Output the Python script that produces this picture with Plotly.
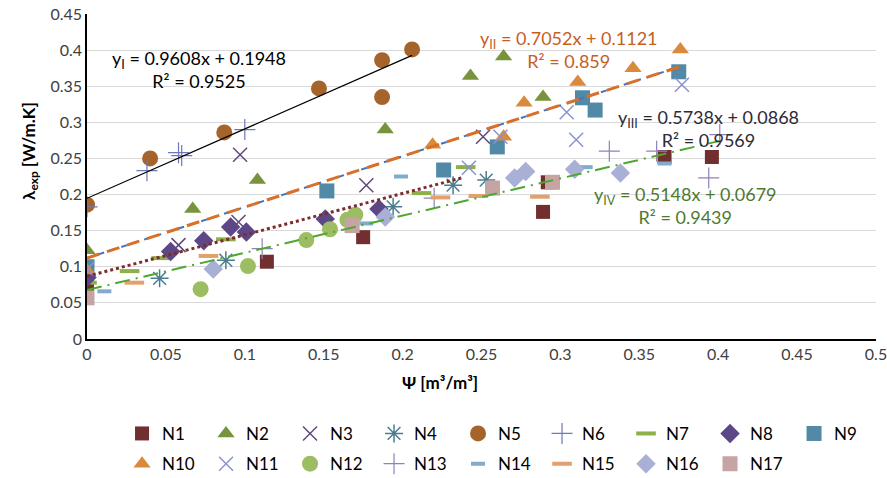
import plotly.graph_objects as go

# ---------------- data ----------------
N1_x = [0.0, 0.114, 0.175, 0.289, 0.292, 0.366, 0.396]
N1_y = [0.073, 0.107, 0.141, 0.176, 0.217, 0.252, 0.252]
N2_x = [0.0, 0.067, 0.108, 0.189, 0.243, 0.264, 0.289]
N2_y = [0.123, 0.180, 0.220, 0.290, 0.364, 0.391, 0.335]
N3_x = [0.058, 0.096, 0.097, 0.177, 0.251]
N3_y = [0.130, 0.162, 0.255, 0.213, 0.280]
N4_x = [0.046, 0.088, 0.194, 0.232, 0.253]
N4_y = [0.084, 0.109, 0.183, 0.213, 0.220]
N5_x = [0.0, 0.040, 0.087, 0.147, 0.187, 0.187, 0.206]
N5_y = [0.186, 0.250, 0.286, 0.347, 0.386, 0.335, 0.401]
N6_x = [0.0, 0.038, 0.058, 0.060, 0.100]
N6_y = [0.183, 0.233, 0.258, 0.254, 0.290]
N7_x = [0.0, 0.027, 0.047, 0.088, 0.212, 0.240]
N7_y = [0.078, 0.094, 0.112, 0.138, 0.202, 0.238]
N8_x = [0.0, 0.053, 0.074, 0.091, 0.101, 0.151, 0.185]
N8_y = [0.085, 0.121, 0.136, 0.155, 0.148, 0.166, 0.180]
N9_x = [0.0, 0.152, 0.226, 0.260, 0.314, 0.322, 0.375]
N9_y = [0.100, 0.205, 0.234, 0.266, 0.334, 0.317, 0.370]
N10_x = [0.0, 0.219, 0.264, 0.277, 0.311, 0.346, 0.376]
N10_y = [0.095, 0.269, 0.280, 0.327, 0.356, 0.375, 0.401]
N11_x = [0.0, 0.242, 0.262, 0.304, 0.310, 0.377]
N11_y = [0.097, 0.237, 0.280, 0.314, 0.276, 0.352]
N12_x = [0.072, 0.102, 0.139, 0.154, 0.165, 0.170]
N12_y = [0.069, 0.101, 0.137, 0.152, 0.165, 0.172]
N13_x = [0.111, 0.220, 0.331, 0.361, 0.394, 0.401]
N13_y = [0.125, 0.195, 0.260, 0.260, 0.223, 0.283]
N14_x = [0.011, 0.177, 0.199, 0.316, 0.366]
N14_y = [0.066, 0.160, 0.225, 0.238, 0.243]
N15_x = [0.030, 0.077, 0.224, 0.248, 0.287]
N15_y = [0.078, 0.115, 0.196, 0.198, 0.197]
N16_x = [0.080, 0.189, 0.271, 0.278, 0.309, 0.338]
N16_y = [0.097, 0.169, 0.223, 0.232, 0.235, 0.230]
N17_x = [0.0, 0.168, 0.257, 0.295]
N17_y = [0.057, 0.157, 0.209, 0.217]

# axis ticks
x_ticks = [0, 0.05, 0.1, 0.15, 0.2, 0.25, 0.3, 0.35, 0.4, 0.45, 0.5]
x_tick_labels = ["0", "0.05", "0.1", "0.15", "0.2", "0.25", "0.3", "0.35", "0.4", "0.45", "0.5"]
y_ticks = [0, 0.05, 0.1, 0.15, 0.2, 0.25, 0.3, 0.35, 0.4, 0.45]
y_tick_labels = ["0", "0.05", "0.1", "0.15", "0.2", "0.25", "0.3", "0.35", "0.4", "0.45"]

# trend lines: slope, intercept, x-extent
trend_I = dict(a=0.9608, b=0.1948, x=[0.0, 0.206])
trend_II = dict(a=0.7052, b=0.1121, x=[0.0, 0.376])
trend_III = dict(a=0.5738, b=0.0868, x=[0.0, 0.238])
trend_IV = dict(a=0.5148, b=0.0679, x=[0.0, 0.401])

FONT = "Lato"

series = [
    ("N1", N1_x, N1_y, "square", "#722F2F", 14, 0, "legend"),
    ("N2", N2_x, N2_y, "triangle-up", "#77933C", 15, 0, "legend"),
    ("N3", N3_x, N3_y, "x-thin-open", "#5F497A", 14, 1.5, "legend"),
    ("N4", N4_x, N4_y, "asterisk-open", "#4B7D90", 15, 1.5, "legend"),
    ("N5", N5_x, N5_y, "circle", "#A5642B", 16, 0, "legend"),
    ("N6", N6_x, N6_y, "cross-thin-open", "#6C78B8", 15, 1.2, "legend"),
    ("N7", N7_x, N7_y, "line-ew-open", "#8DB04A", 14, 4, "legend"),
    ("N8", N8_x, N8_y, "diamond", "#5E4787", 15, 0, "legend"),
    ("N9", N9_x, N9_y, "square", "#5189A6", 15, 0, "legend"),
    ("N10", N10_x, N10_y, "triangle-up", "#DA8A3C", 15, 0, "legend2"),
    ("N11", N11_x, N11_y, "x-thin-open", "#8A93D0", 14, 1.5, "legend2"),
    ("N12", N12_x, N12_y, "circle", "#9DBD62", 16, 0, "legend2"),
    ("N13", N13_x, N13_y, "cross-thin-open", "#8D82BB", 15, 1.2, "legend2"),
    ("N14", N14_x, N14_y, "line-ew-open", "#80ADCB", 10, 4, "legend2"),
    ("N15", N15_x, N15_y, "line-ew-open", "#E4A06C", 14, 4, "legend2"),
    ("N16", N16_x, N16_y, "diamond", "#A9B0D6", 15, 0, "legend2"),
    ("N17", N17_x, N17_y, "square", "#C6A4A4", 15, 0, "legend2"),
]

fig = go.Figure()

for name, xs, ys, sym, col, size, lw, leg in series:
    marker = dict(symbol=sym, size=size, color=col)
    if lw:
        marker["line"] = dict(color=col, width=lw)
    else:
        marker["line"] = dict(width=0)
    fig.add_trace(go.Scatter(x=xs, y=ys, mode="markers", name=name,
                             marker=marker, legend=leg))


def tl(t):
    return [t["a"] * v + t["b"] for v in t["x"]]


fig.add_trace(go.Scatter(x=trend_I["x"], y=tl(trend_I), mode="lines",
                         line=dict(color="black", width=1.2), showlegend=False))
fig.add_trace(go.Scatter(x=trend_II["x"], y=tl(trend_II), mode="lines",
                         line=dict(color="#4472C4", width=2, dash="6px,6px"),
                         showlegend=False))
fig.add_trace(go.Scatter(x=trend_II["x"], y=tl(trend_II), mode="lines",
                         line=dict(color="#D9702A", width=3, dash="13px,8px"),
                         showlegend=False))
fig.add_trace(go.Scatter(x=trend_III["x"], y=tl(trend_III), mode="lines",
                         line=dict(color="#7B2C2C", width=3, dash="dot"),
                         showlegend=False))
fig.add_trace(go.Scatter(x=trend_IV["x"], y=tl(trend_IV), mode="lines",
                         line=dict(color="#4EA72E", width=2, dash="15px,6px,2px,6px"),
                         showlegend=False))

ann_font = dict(family=FONT, size=18)
annotations = [
    dict(x=0.071, y=0.3726, text="y<sub>I</sub> = 0.9608x + 0.1948<br>R² = 0.9525",
         font=dict(ann_font, color="#000000")),
    dict(x=0.3054, y=0.4003, text="y<sub>II</sub> = 0.7052x + 0.1121<br>R² = 0.859",
         font=dict(ann_font, color="#C5601F")),
    dict(x=0.394, y=0.2909, text="y<sub>III</sub> = 0.5738x + 0.0868<br>R² = 0.9569",
         font=dict(ann_font, color="#2E2A35")),
    dict(x=0.379, y=0.1842, text="y<sub>IV</sub> = 0.5148x + 0.0679<br>R² = 0.9439",
         font=dict(ann_font, color="#4E7A2E")),
]
for a in annotations:
    fig.add_annotation(xref="x", yref="y", showarrow=False, align="center",
                       xanchor="center", yanchor="middle", **a)

# axis titles
fig.add_annotation(xref="paper", yref="paper", x=-0.073, y=0.58, textangle=-90,
                   text="<b>λ<sub>exp</sub> [W/m.K]</b>", showarrow=False,
                   font=dict(family=FONT, size=17, color="#000000"),
                   xanchor="center", yanchor="middle")
fig.add_annotation(xref="paper", yref="paper", x=0.4475, y=-0.135,
                   text="<b>Ψ [m³/m³]</b>", showarrow=False,
                   font=dict(family=FONT, size=17, color="#000000"),
                   xanchor="center", yanchor="middle")

fig.update_layout(
    width=887, height=478,
    margin=dict(l=87, r=11, t=14, b=139, autoexpand=False),
    paper_bgcolor="white", plot_bgcolor="white",
    font=dict(family=FONT, size=16, color="#404040"),
    xaxis=dict(range=[0, 0.5], tickmode="array", tickvals=x_ticks, ticktext=x_tick_labels,
               showgrid=False, showline=True, linecolor="black", linewidth=1.5,
               zeroline=False, ticks="", automargin=False, ticklabeloverflow="allow",
               tickfont=dict(size=16, color="#404040")),
    yaxis=dict(range=[0, 0.45], tickmode="array", tickvals=y_ticks, ticktext=y_tick_labels,
               showgrid=True, gridcolor="#D9D9D9", gridwidth=1,
               showline=True, linecolor="black", linewidth=1.5,
               zeroline=False, ticks="", automargin=False,
               tickfont=dict(size=16, color="#404040")),
    legend=dict(orientation="h", x=0.0444, y=-0.292, xanchor="left", yanchor="middle",
                entrywidth=39, entrywidthmode="pixels", font=dict(size=17, color="#000000"),
                itemclick=False, tracegroupgap=0),
    legend2=dict(orientation="h", x=0.0444, y=-0.385, xanchor="left", yanchor="middle",
                 entrywidth=39, entrywidthmode="pixels", font=dict(size=17, color="#000000"),
                 itemclick=False, tracegroupgap=0),
    showlegend=True,
)

fig.write_html("out.html")
